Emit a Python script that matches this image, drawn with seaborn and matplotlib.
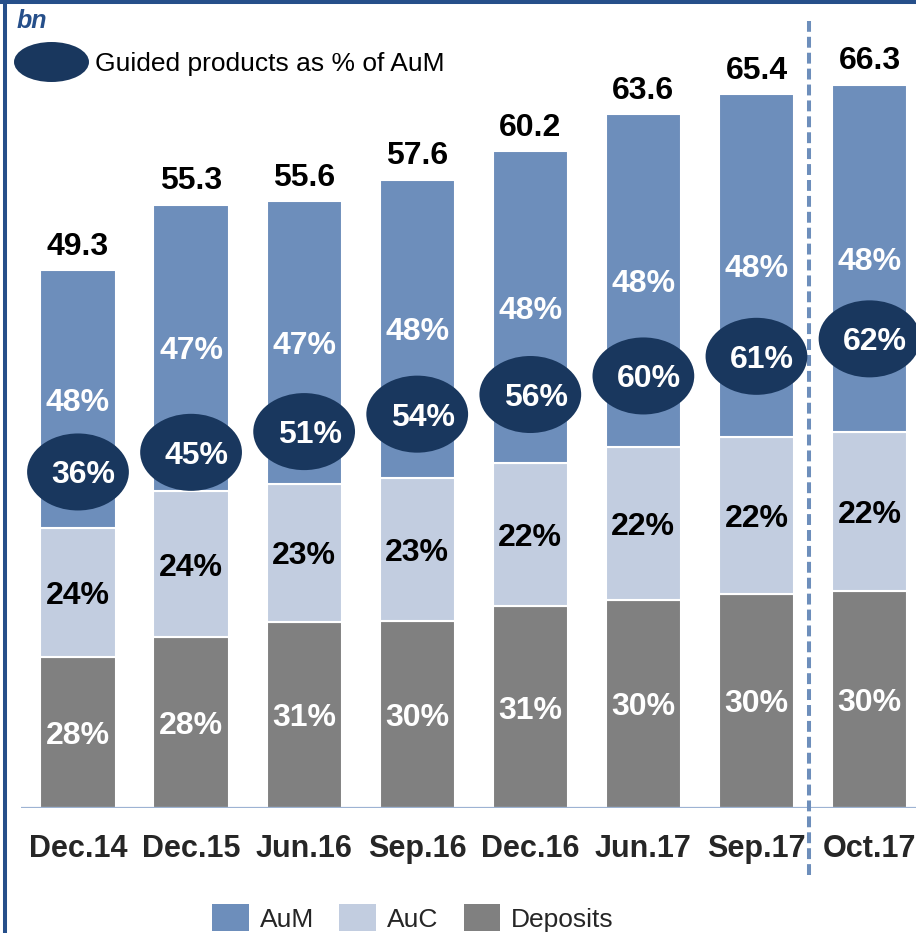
import numpy as np
import pandas as pd
import matplotlib
matplotlib.use("Agg")
import matplotlib.pyplot as plt
import seaborn as sns
from matplotlib.patches import Ellipse, Patch
from matplotlib.lines import Line2D

# ---- data ----
categories = ["Dec.14", "Dec.15", "Jun.16", "Sep.16", "Dec.16", "Jun.17", "Sep.17", "Oct.17"]
totals = [49.3, 55.3, 55.6, 57.6, 60.2, 63.6, 65.4, 66.3]
deposits_pct = [28, 28, 31, 30, 31, 30, 30, 30]
auc_pct = [24, 24, 23, 23, 22, 22, 22, 22]
aum_pct = [48, 47, 47, 48, 48, 48, 48, 48]
guided_pct = [36, 45, 51, 54, 56, 60, 61, 62]

# label anchor heights for the guided ellipses (layout)
guided_label_y = [30.8, 32.6, 34.5, 36.1, 37.9, 39.6, 41.4, 43.0]

# ---- styling ----
C_AUM = "#6D8EBB"
C_AUC = "#C2CDE0"
C_DEP = "#808080"
C_ELL = "#19375E"
C_BORDER = "#264F8A"
C_BASE = "#9DB3D3"

sns.set_style("white")
plt.rcParams["font.family"] = ["Liberation Sans", "DejaVu Sans"]

W, H = 916, 933
fig = plt.figure(figsize=(W / 100, H / 100), dpi=100)
ax = fig.add_axes([21 / W, 125 / H, (W - 21) / W, 808 / H])

tot = np.array(totals)
dep = np.array(deposits_pct, float)
auc = np.array(auc_pct, float)
aum = np.array(aum_pct, float)
s = dep + auc + aum
dep_v = tot * dep / s
auc_v = tot * auc / s
aum_v = tot * aum / s

df = pd.DataFrame({"cat": categories, "dep": dep_v, "auc": auc_v, "aum": aum_v})

bw = 0.665
common = dict(x="cat", order=categories, width=bw, edgecolor="white", linewidth=1.5, ax=ax, legend=False)
sns.barplot(data=df, y="dep", color=C_DEP, saturation=1, **common)
sns.barplot(data=df, y="auc", bottom=dep_v, color=C_AUC, saturation=1, **common)
sns.barplot(data=df, y="aum", bottom=dep_v + auc_v, color=C_AUM, saturation=1, **common)

ax.set_xlim(-0.504, 7.411)
ax.set_ylim(0, 74.06)
for sp in ax.spines.values():
    sp.set_visible(False)
ax.set_yticks([])
ax.set_xlabel("")
ax.set_ylabel("")
ax.tick_params(axis="x", length=0, pad=19)
ax.set_xticks(range(len(categories)))
ax.set_xticklabels(categories, fontsize=22, fontweight="bold")
ax.axhline(0, color=C_BASE, lw=1.6, zorder=1)

fs = 23
for i in range(len(categories)):
    ax.text(i, dep_v[i] / 2, f"{deposits_pct[i]}%", ha="center", va="center_baseline",
            color="white", fontsize=fs, fontweight="bold", zorder=5)
    ax.text(i, dep_v[i] + auc_v[i] / 2, f"{auc_pct[i]}%", ha="center", va="center_baseline",
            color="black", fontsize=fs, fontweight="bold", zorder=5)
    ax.text(i, dep_v[i] + auc_v[i] + aum_v[i] / 2, f"{aum_pct[i]}%", ha="center",
            va="center_baseline", color="white", fontsize=fs, fontweight="bold", zorder=5)
    ax.annotate(f"{totals[i]}", (i, totals[i]), xytext=(0, 11), textcoords="offset points",
                ha="center", va="baseline", fontsize=fs, fontweight="bold", color="black")
    e = Ellipse((i, guided_label_y[i]), 0.90, 7.06, facecolor=C_ELL, edgecolor="none", zorder=6)
    ax.add_patch(e)
    ax.text(i + 0.05, guided_label_y[i], f"{guided_pct[i]}%", ha="center", va="center_baseline",
            color="white", fontsize=fs, fontweight="bold", zorder=7)

# dashed separator
ax.axvline(6.465, ymin=(808 - 875) / 808, ymax=(808 - 21) / 808, clip_on=False,
           color=C_AUM, lw=2.9, linestyle=(0, (2.7, 1.25)), zorder=3)

# top legend (guided)
fig.add_artist(Ellipse((51.5 / W, (H - 62) / H), 75 / W, 40 / H, transform=fig.transFigure,
                       facecolor=C_ELL, edgecolor="none"))
fig.text(95 / W, (H - 61) / H, "Guided products as % of AuM", ha="left", va="center_baseline",
         fontsize=19, color="black")

# unit
fig.text(17 / W, (H - 28) / H, "bn", ha="left", va="baseline", fontsize=18, fontstyle="italic",
         fontweight="bold", color=C_BORDER)

# borders
fig.add_artist(Line2D([5 / W, 5 / W], [0, 1], transform=fig.transFigure, color=C_BORDER, lw=2.9))
fig.add_artist(Line2D([0, 1], [(H - 2) / H, (H - 2) / H], transform=fig.transFigure,
                      color=C_BORDER, lw=2.9))

# bottom legend
handles = [Patch(facecolor=C_AUM, edgecolor="none"), Patch(facecolor=C_AUC, edgecolor="none"),
           Patch(facecolor=C_DEP, edgecolor="none")]
fig.legend(handles, ["AuM", "AuC", "Deposits"], loc="center",
           bbox_to_anchor=(413 / W, (H - 918) / H), ncol=3, frameon=False, fontsize=19,
           handlelength=1.38, handleheight=1.15, handletextpad=0.42, columnspacing=0.96,
           borderpad=0, borderaxespad=0)

fig.savefig("out.png", dpi=100)
